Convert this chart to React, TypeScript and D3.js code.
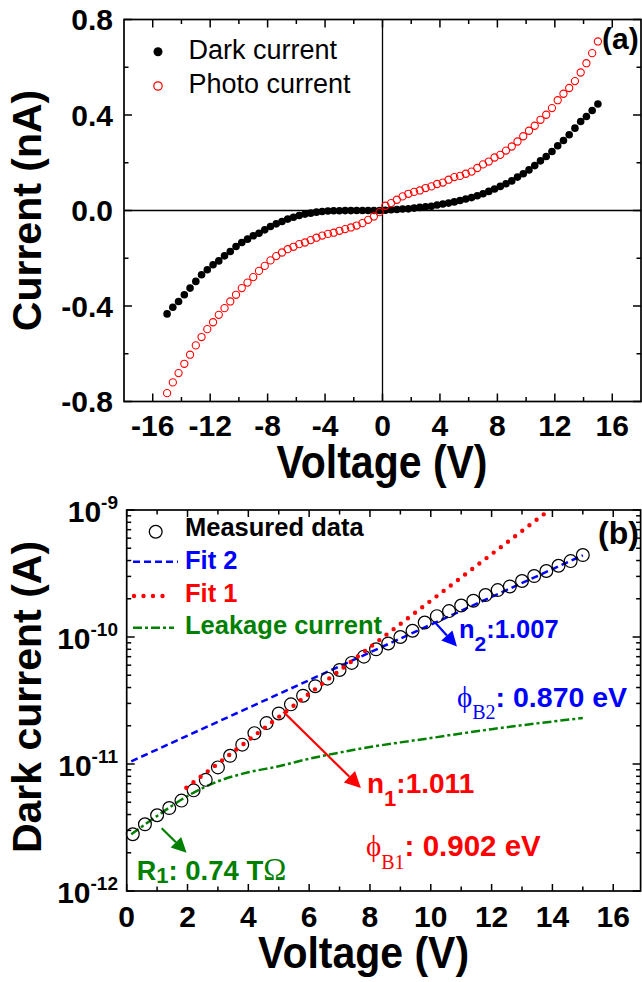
import * as d3 from "d3";

const SANS = "'Liberation Sans', Arial, Helvetica, sans-serif";
const SERIF = "'Liberation Serif', 'Times New Roman', 'DejaVu Serif', serif";

// ---- panel (a): I-V sweep, nA ----
const voltNeg = [
  -15.0, -14.6, -14.2, -13.8, -13.4, -13.0, -12.6, -12.2, -11.8, -11.4,
  -11.0, -10.6, -10.2, -9.8, -9.4, -9.0, -8.6, -8.2, -7.8, -7.4,
  -7.0, -6.6, -6.2, -5.8, -5.4, -5.0, -4.6, -4.2, -3.8, -3.4,
  -3.0, -2.6, -2.2, -1.8, -1.4, -1.0, -0.6, -0.2,
];
const voltPos = [
  0.2, 0.6, 1.0, 1.4, 1.8, 2.2, 2.6, 3.0, 3.4, 3.8,
  4.2, 4.6, 5.0, 5.4, 5.8, 6.2, 6.6, 7.0, 7.4, 7.8,
  8.2, 8.6, 9.0, 9.4, 9.8, 10.2, 10.6, 11.0, 11.4, 11.8,
  12.2, 12.6, 13.0, 13.4, 13.8, 14.2, 14.6, 15.0,
];
const darkNeg = [
  -0.433, -0.405, -0.381, -0.353, -0.325, -0.297, -0.269, -0.248, -0.227, -0.211,
  -0.19, -0.172, -0.151, -0.134, -0.12, -0.106, -0.095, -0.081, -0.067, -0.056,
  -0.046, -0.036, -0.028, -0.021, -0.015, -0.011, -0.007, -0.004, -0.002, -0.001,
  -0.001, -0.0005, -0.0004, -0.0003, -0.0002, -0.0001, -0.0001, 0,
];
const darkPos = [
  0.001, 0.003, 0.004, 0.006, 0.007, 0.01, 0.013, 0.015, 0.018, 0.023,
  0.027, 0.031, 0.036, 0.042, 0.048, 0.054, 0.062, 0.07, 0.08, 0.09,
  0.101, 0.112, 0.124, 0.14, 0.154, 0.17, 0.188, 0.208, 0.226, 0.247,
  0.271, 0.293, 0.317, 0.345, 0.373, 0.394, 0.419, 0.446,
];
const photoNeg = [
  -0.765, -0.72, -0.681, -0.642, -0.604, -0.565, -0.53, -0.497, -0.468, -0.437,
  -0.409, -0.381, -0.353, -0.325, -0.302, -0.279, -0.253, -0.232, -0.209, -0.191,
  -0.176, -0.162, -0.152, -0.141, -0.134, -0.124, -0.114, -0.105, -0.098, -0.093,
  -0.085, -0.078, -0.071, -0.063, -0.053, -0.039, -0.025, -0.007,
];
const photoPos = [
  0.02, 0.031, 0.045, 0.059, 0.07, 0.078, 0.084, 0.094, 0.101, 0.111,
  0.117, 0.129, 0.14, 0.145, 0.154, 0.163, 0.178, 0.193, 0.205, 0.222,
  0.233, 0.251, 0.268, 0.289, 0.311, 0.334, 0.355, 0.38, 0.401, 0.429,
  0.462, 0.489, 0.513, 0.542, 0.578, 0.617, 0.659, 0.708,
];

// ---- panel (b): forward dark current, A ----
const measuredI = [
  2.8e-12, 3.35e-12, 3.95e-12, 4.5e-12, 5.15e-12, 6.2e-12, 7.5e-12, 9.4e-12, 1.16e-11, 1.42e-11,
  1.75e-11, 2.1e-11, 2.5e-11, 2.95e-11, 3.45e-11, 4.1e-11, 4.7e-11, 5.5e-11, 6.25e-11, 7.0e-11,
  8.0e-11, 8.9e-11, 1.0e-10, 1.12e-10, 1.3e-10, 1.46e-10, 1.6e-10, 1.77e-10, 1.93e-10, 2.14e-10,
  2.34e-10, 2.5e-10, 2.76e-10, 3.02e-10, 3.31e-10, 3.64e-10, 3.96e-10, 4.42e-10,
];
const fit1V = [1.96, 13.9];
const fit1I = [6.5e-12, 1.0e-9];
const fit2V = [0.15, 15.0];
const fit2I = [1.05e-11, 4.4e-10];
const leakV = [0.15, 1, 2, 3, 4, 5, 6, 7, 8, 9, 10, 11, 12, 13, 14, 15];
const leakI = [
  2.8e-12, 3.9e-12, 5.6e-12, 7.3e-12, 8.6e-12, 9.6e-12, 1.1e-11, 1.23e-11,
  1.36e-11, 1.48e-11, 1.6e-11, 1.74e-11, 1.88e-11, 2.02e-11, 2.16e-11, 2.3e-11,
];

// ticks
const xMajorA = [-16, -12, -8, -4, 0, 4, 8, 12, 16];
const xMinorA = [-14, -10, -6, -2, 2, 6, 10, 14];
const yMajorA = [-0.8, -0.4, 0, 0.4, 0.8];
const yMinorA = [-0.6, -0.2, 0.2, 0.6];
const yLabelsA = ["-0.8", "-0.4", "0.0", "0.4", "0.8"];
const xMajorB = [0, 2, 4, 6, 8, 10, 12, 14, 16];
const xMinorB = [1, 3, 5, 7, 9, 11, 13, 15];
const decadesB = [1e-12, 1e-11, 1e-10, 1e-9];
const decadeExp = ["-12", "-11", "-10", "-9"];

const RED = "#ff0000";
const BLUE = "#0000ff";
const GREEN = "#008000";

function arrow(x0: number, y0: number, x1: number, y1: number, color: string, len = 15, half = 7) {
  const dx = x1 - x0, dy = y1 - y0;
  const d = Math.hypot(dx, dy);
  const ux = dx / d, uy = dy / d;
  const bx = x1 - ux * len, by = y1 - uy * len;
  const pts = [
    [x1, y1],
    [bx - uy * half, by + ux * half],
    [bx + uy * half, by - ux * half],
  ].map((p) => p.join(",")).join(" ");
  return (
    <g>
      <line x1={x0} y1={y0} x2={bx} y2={by} stroke={color} strokeWidth={2.2} />
      <polygon points={pts} fill={color} />
    </g>
  );
}

export default function App() {
  const xA = d3.scaleLinear().domain([-18, 18]).range([124, 641]);
  const yA = d3.scaleLinear().domain([-0.8, 0.8]).range([401.5, 19.5]);
  const xB = d3.scaleLinear().domain([0, 16.9]).range([126.7, 640.6]);
  const yB = d3.scaleLog().domain([1e-12, 1e-9]).range([891, 510]);

  const [aL, aR] = xA.range();
  const [aB, aT] = yA.range();
  const [bL, bR] = xB.range();
  const [bB, bT] = yB.range();

  const lineB = d3.line<[number, number]>().x((d) => xB(d[0])).y((d) => yB(d[1]));
  const leakLine = d3.line<[number, number]>().x((d) => xB(d[0])).y((d) => yB(d[1])).curve(d3.curveMonotoneX);

  const minorLog: number[] = [];
  decadesB.slice(0, 3).forEach((dec) => {
    for (let k = 2; k <= 9; k++) minorLog.push(dec * k);
  });

  const tk = { stroke: "#000", strokeWidth: 1.5 };

  return (
    <svg
      width={642}
      height={982}
      style={{ position: "absolute", left: 0, top: 0, background: "#fff" }}
      fontFamily={SANS}
    >
      {/* ============ panel (a) ============ */}
      <g>
        <line x1={aL} x2={aR} y1={yA(0)} y2={yA(0)} stroke="#000" strokeWidth={1.3} />
        <line x1={xA(0)} x2={xA(0)} y1={aT} y2={aB} stroke="#000" strokeWidth={1.3} />

        {xMajorA.map((v) => (
          <g key={"xa" + v}>
            <line x1={xA(v)} x2={xA(v)} y1={aB} y2={aB - 8} {...tk} />
            <line x1={xA(v)} x2={xA(v)} y1={aT} y2={aT + 8} {...tk} />
            <text x={xA(v)} y={436} textAnchor="middle" fontSize={30} fontWeight="bold">
              {v}
            </text>
          </g>
        ))}
        {xMinorA.map((v) => (
          <g key={"xam" + v}>
            <line x1={xA(v)} x2={xA(v)} y1={aB} y2={aB - 4.5} {...tk} />
            <line x1={xA(v)} x2={xA(v)} y1={aT} y2={aT + 4.5} {...tk} />
          </g>
        ))}
        {yMajorA.map((v, i) => (
          <g key={"ya" + v}>
            <line x1={aL} x2={aL + 8} y1={yA(v)} y2={yA(v)} {...tk} />
            <line x1={aR} x2={aR - 8} y1={yA(v)} y2={yA(v)} {...tk} />
            <text x={113} y={yA(v) + 10.7} textAnchor="end" fontSize={30} fontWeight="bold">
              {yLabelsA[i]}
            </text>
          </g>
        ))}
        {yMinorA.map((v) => (
          <g key={"yam" + v}>
            <line x1={aL} x2={aL + 4.5} y1={yA(v)} y2={yA(v)} {...tk} />
            <line x1={aR} x2={aR - 4.5} y1={yA(v)} y2={yA(v)} {...tk} />
          </g>
        ))}
        <rect x={aL} y={aT} width={aR - aL} height={aB - aT} fill="none" stroke="#000" strokeWidth={1.7} />

        {voltNeg.map((v, i) => (
          <circle key={"dn" + i} cx={xA(v)} cy={yA(darkNeg[i])} r={3.8} fill="#000" />
        ))}
        {voltPos.map((v, i) => (
          <circle key={"dp" + i} cx={xA(v)} cy={yA(darkPos[i])} r={3.8} fill="#000" />
        ))}
        {voltNeg.map((v, i) => (
          <circle key={"pn" + i} cx={xA(v)} cy={yA(photoNeg[i])} r={3.6} fill="none" stroke={RED} strokeWidth={1.1} />
        ))}
        {voltPos.map((v, i) => (
          <circle key={"pp" + i} cx={xA(v)} cy={yA(photoPos[i])} r={3.6} fill="none" stroke={RED} strokeWidth={1.1} />
        ))}

        {/* legend */}
        <circle cx={158} cy={51.7} r={4.5} fill="#000" />
        <text x={188.5} y={59} fontSize={27}>Dark current</text>
        <circle cx={158} cy={86} r={4.2} fill="none" stroke={RED} strokeWidth={1.2} />
        <text x={188.5} y={93} fontSize={27}>Photo current</text>

        <text x={602} y={49} fontSize={30} fontWeight="bold">(a)</text>

        <g transform="translate(382,478) scale(1,1.12)">
          <text x={0} y={0} textAnchor="middle" fontSize={41} fontWeight="bold">Voltage (V)</text>
        </g>
        <text
          transform={`translate(41,${(aT + aB) / 2}) rotate(-90)`}
          textAnchor="middle"
          fontSize={41}
          fontWeight="bold"
        >
          Current (nA)
        </text>
      </g>

      {/* ============ panel (b) ============ */}
      <g>
        {xMajorB.map((v) => (
          <g key={"xb" + v}>
            <line x1={xB(v)} x2={xB(v)} y1={bB} y2={bB - 7} {...tk} />
            <line x1={xB(v)} x2={xB(v)} y1={bT} y2={bT + 7} {...tk} />
            <text x={xB(v)} y={927} textAnchor="middle" fontSize={30} fontWeight="bold">
              {v}
            </text>
          </g>
        ))}
        {xMinorB.map((v) => (
          <g key={"xbm" + v}>
            <line x1={xB(v)} x2={xB(v)} y1={bB} y2={bB - 4.5} {...tk} />
            <line x1={xB(v)} x2={xB(v)} y1={bT} y2={bT + 4.5} {...tk} />
          </g>
        ))}
        {decadesB.map((v, i) => (
          <g key={"yb" + i}>
            <line x1={bL} x2={bL + 8} y1={yB(v)} y2={yB(v)} {...tk} />
            <line x1={bR} x2={bR - 8} y1={yB(v)} y2={yB(v)} {...tk} />
            <text x={118} y={yB(v) + 11.5} textAnchor="end" fontWeight="bold">
              <tspan fontSize={30}>10</tspan>
              <tspan fontSize={19} dy={-13}>{decadeExp[i]}</tspan>
            </text>
          </g>
        ))}
        {minorLog.map((v, i) => (
          <g key={"ybm" + i}>
            <line x1={bL} x2={bL + 4.5} y1={yB(v)} y2={yB(v)} {...tk} />
            <line x1={bR} x2={bR - 4.5} y1={yB(v)} y2={yB(v)} {...tk} />
          </g>
        ))}
        <rect x={bL} y={bT} width={bR - bL} height={bB - bT} fill="none" stroke="#000" strokeWidth={1.7} />

        <path
          d={lineB(fit2V.map((v, i) => [v, fit2I[i]] as [number, number])) || ""}
          fill="none"
          stroke={BLUE}
          strokeWidth={2.5}
          strokeDasharray="7,4"
        />
        <path
          d={leakLine(leakV.map((v, i) => [v, leakI[i]] as [number, number])) || ""}
          fill="none"
          stroke={GREEN}
          strokeWidth={2.5}
          strokeDasharray="9,3,3,3"
        />
        {voltPos.map((v, i) => (
          <circle key={"m" + i} cx={xB(v)} cy={yB(measuredI[i])} r={6.4} fill="none" stroke="#000" strokeWidth={1.2} />
        ))}
        <path
          d={lineB(fit1V.map((v, i) => [v, fit1I[i]] as [number, number])) || ""}
          fill="none"
          stroke={RED}
          strokeWidth={4.4}
          strokeLinecap="round"
          strokeDasharray="0,9"
        />

        {/* legend */}
        <circle cx={155.7} cy={531.7} r={6.4} fill="none" stroke="#000" strokeWidth={1.3} />
        <text x={185} y={535.7} fontSize={25.5} fontWeight="bold">Measured data</text>
        <line x1={133} x2={178} y1={561.7} y2={561.7} stroke={BLUE} strokeWidth={2.5} strokeDasharray="7,4" />
        <text x={185} y={569} fontSize={25.5} fontWeight="bold" fill={BLUE}>Fit 2</text>
        <line x1={134} x2={172} y1={596} y2={596} stroke={RED} strokeWidth={4.4} strokeLinecap="round" strokeDasharray="0,9.5" />
        <text x={185} y={602} fontSize={25.5} fontWeight="bold" fill={RED}>Fit 1</text>
        <line x1={133} x2={174} y1={627.7} y2={627.7} stroke={GREEN} strokeWidth={2.5} strokeDasharray="9,3,3,3" />
        <text x={185} y={634} fontSize={25.5} fontWeight="bold" fill={GREEN}>Leakage current</text>

        <text x={598} y={544} fontSize={32} fontWeight="bold">(b)</text>

        {/* annotations */}
        {arrow(xB(10.12), yB(1.32e-10), xB(10.86), yB(8.4e-11), BLUE, 15, 7.5)}
        <text x={459} y={638} fontSize={25.5} fontWeight="bold" fill={BLUE}>
          n<tspan fontSize={21} dy={13}>2</tspan>
          <tspan dy={-13}>:1.007</tspan>
        </text>
        <text x={457} y={706.7} fill={BLUE}>
          <tspan fontFamily={SERIF} fontSize={29}>ϕ</tspan>
          <tspan fontFamily={SERIF} fontSize={20} dy={12}>B2</tspan>
          <tspan fontSize={28.5} fontWeight="bold" dy={-12}>: 0.870 eV</tspan>
        </text>

        {arrow(xB(5.15), yB(2.58e-11), xB(7.7), yB(6.47e-12), RED, 16, 8)}
        <text x={367} y={793} fontSize={28} fontWeight="bold" fill={RED}>
          n<tspan fontSize={22} dy={13}>1</tspan>
          <tspan dy={-13}>:1.011</tspan>
        </text>
        <text x={366} y={856} fill={RED}>
          <tspan fontFamily={SERIF} fontSize={29}>ϕ</tspan>
          <tspan fontFamily={SERIF} fontSize={20} dy={13}>B1</tspan>
          <tspan fontSize={29.5} fontWeight="bold" dy={-13}>: 0.902 eV</tspan>
        </text>

        {arrow(xB(1.15), yB(3.12e-12), xB(1.97), yB(2.0e-12), GREEN, 15, 7.5)}
        <text x={136.7} y={880} fill={GREEN} fontWeight="bold">
          <tspan fontSize={27}>R</tspan>
          <tspan fontSize={22} dy={3}>1</tspan>
          <tspan fontSize={27.5} dy={-3}>: 0.74 T</tspan>
          <tspan fontFamily={SERIF} fontSize={31} fontWeight="normal">Ω</tspan>
        </text>

        <g transform="translate(363.6,968) scale(1,1.1)">
          <text x={0} y={0} textAnchor="middle" fontSize={41} fontWeight="bold">Voltage (V)</text>
        </g>
        <text
          transform={`translate(41,697) rotate(-90)`}
          textAnchor="middle"
          fontSize={41}
          fontWeight="bold"
        >
          Dark current (A)
        </text>
      </g>
    </svg>
  );
}
